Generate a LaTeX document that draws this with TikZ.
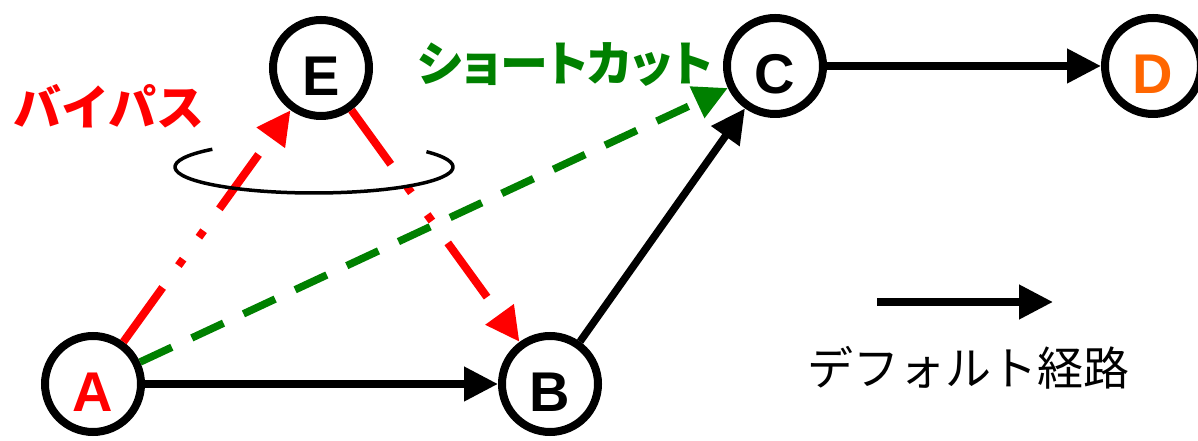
\documentclass[tikz,border=0pt]{standalone}
\usepackage{fontspec}
\setmainfont{Liberation Sans}
\newfontfamily\jpfont{Noto Sans CJK JP}
\newfontfamily\jppfont[RawFeature=+palt]{Noto Sans CJK JP}
\usetikzlibrary{arrows.meta}
\definecolor{cutgreen}{RGB}{0,128,0}
\definecolor{dorange}{RGB}{255,102,0}
\tikzset{
  vertex/.style={circle, draw=black, line width=8pt, fill=white, minimum size=96pt,
    inner sep=0pt, font=\fontsize{56}{56}\selectfont\bfseries,
    text height=56pt, text depth=0pt},
  tip/.style={-{Triangle[length=34pt,width=33pt]}},
  defaultpath/.style={tip, draw=black, line width=7.5pt},
  bypass/.style={tip, draw=red, line width=8pt,
    dash pattern=on 67pt off 27pt on 8pt off 27pt on 8pt off 27pt},
  shortcut/.style={tip, draw=cutgreen, line width=7.5pt,
    dash pattern=on 35pt off 22pt},
  jplabel/.style={inner sep=0pt, font=\jpfont\fontsize{48}{48}\selectfont\bfseries}
}
\begin{document}
\begin{tikzpicture}[x=1pt,y=1pt]
\useasboundingbox (0,0) rectangle (1198,441);

% vertices
\node[vertex, text=red]     (A) at (93,57)    {A};
\node[vertex]               (B) at (550,57)   {B};
\node[vertex]               (C) at (775,375)  {C};
\node[vertex, text=dorange] (D) at (1153,375) {D};
\node[vertex]               (E) at (321,373)  {E};

% bypass via E
\draw[bypass] (A) -- (E);
\draw[bypass] (E) -- (B);

% shortcut A -> C
\draw[shortcut] (A) -- (C);

% default route
\draw[defaultpath] (A) -- (B);
\draw[defaultpath] (B) -- (C);
\draw[defaultpath] (C) -- (D);

% rotation ring around the bypass
\draw[black, line width=3.5pt] (314,274) ++(137:139pt and 26pt)
  arc[start angle=137, end angle=396, x radius=139pt, y radius=26pt];

% labels
\node[jplabel, text=red] (lbypass) at (109,335) {バイパス};
\node[inner sep=0pt, text=cutgreen, font=\jppfont\fontsize{48}{48}\selectfont\bfseries]
  (lshort) at (565,376) {ショートカット};

% legend
\coordinate (L1) at (877,139);
\coordinate (L2) at (1053,139);
\draw[defaultpath] (L1) -- (L2);
\node[inner sep=0pt, font=\jpfont\fontsize{46}{46}\selectfont] (ldef) at (968,73) {デフォルト経路};
\end{tikzpicture}
\end{document}
